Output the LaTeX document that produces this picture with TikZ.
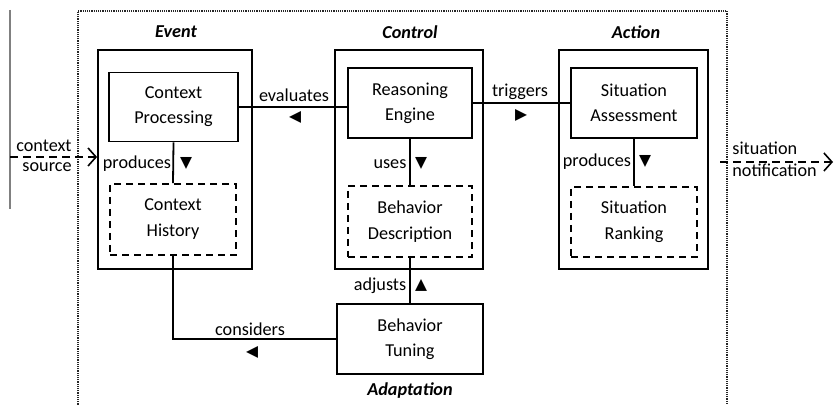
\documentclass[tikz,border=0pt]{standalone}
\usepackage{fontspec}
\setmainfont{Carlito}
\newfontfamily\symfont{DejaVu Sans}
\usetikzlibrary{arrows.meta}
\begin{document}
\begin{tikzpicture}[x=0.5pt,y=-0.5pt,
  txt/.style={font=\fontsize{9.1}{12.5}\selectfont, inner sep=0pt},
  ttl/.style={font=\fontsize{9.1}{12.5}\selectfont\bfseries\itshape, inner sep=0pt},
  outerbox/.style={draw, line width=0.9pt, inner sep=0pt},
  solidbox/.style={draw, line width=0.9pt, inner sep=0pt, align=center, font=\fontsize{9.1}{12.5}\selectfont},
  dashbox/.style={draw, line width=0.8pt, dash pattern=on 3.5pt off 2.5pt, inner sep=0pt, align=center, font=\fontsize{9.1}{13}\selectfont},
  link/.style={line width=0.9pt},
  tri/.style={font=\fontsize{7.8}{8}\selectfont\symfont, inner sep=0pt},
  ioarrow/.style={line width=0.8pt, dash pattern=on 4pt off 2.5pt, -{Straight Barb[length=4pt,width=9pt,line width=0.8pt]}}
]
\useasboundingbox (0,0) rectangle (835,405);
% left gray line and outer dotted frame
\draw[gray, line width=1pt] (10,10) -- (10,209);
\draw[line width=0.6pt, dash pattern=on 0.6pt off 0.5pt, black!85] (78,420) -- (78,11) -- (727,11) -- (727,420);

% group boxes
\node[outerbox, minimum width=77pt, minimum height=109.5pt] (event) at (175,159.5) {};
\node[outerbox, minimum width=74pt, minimum height=109.5pt] (control) at (409,159.5) {};
\node[outerbox, minimum width=74.5pt, minimum height=109.5pt] (action) at (633.5,159.5) {};

\node[ttl] (tevent) at (176,32) {Event};
\node[ttl] (tcontrol) at (410,32) {Control};
\node[ttl] (taction) at (636,32) {Action};
\node[ttl] (tadapt) at (410,391) {Adaptation};

% inner boxes
\node[solidbox, minimum width=64.5pt, minimum height=34.5pt] (cp) at (173.5,107) {Context\\Processing};
\node[dashbox, minimum width=63pt, minimum height=35.5pt] (ch) at (173,219.5) {Context\\History};
\node[solidbox, minimum width=62pt, minimum height=35pt] (re) at (410,103) {Reasoning\\Engine};
\node[dashbox, minimum width=62pt, minimum height=35.5pt] (bd) at (410,221.5) {Behavior\\Description};
\node[solidbox, minimum width=63pt, minimum height=35pt] (sa) at (634,103) {Situation\\Assessment};
\node[dashbox, minimum width=63pt, minimum height=35pt] (sr) at (634,222) {Situation\\Ranking};
\node[solidbox, minimum width=73pt, minimum height=35pt] (bt) at (410,339) {Behavior\\Tuning};

% connectors
\draw[link] (cp.east) -- (cp.east -| re.west);
\draw[link] (re.east) -- (sa.west);
\draw[link] (cp.south) -- (ch.north);
\draw[link] (re.south) -- (bd.north);
\draw[link] (sa.south) -- (sr.north);
\draw[link] (bd.south) -- (bt.north);
\draw[link] (ch.south) |- (bt.west);

% labels
\node[txt] (levaluates) at (294,95) {evaluates};
\node[tri] (aevaluates) at (295,117) {◀};
\node[txt] (ltriggers) at (520,92) {triggers};
\node[tri] (atriggers) at (521,115) {▶};
\node[txt] (lprod1) at (137,164) {produces};
\node[tri] (aprod1) at (186,163) {▼};
\node[txt] (luses) at (390,164) {uses};
\node[tri] (auses) at (421,163) {▼};
\node[txt] (lprod2) at (597,162) {produces};
\node[tri] (aprod2) at (645,161) {▼};
\node[txt] (ladjusts) at (380,286) {adjusts};
\node[tri] (aadjusts) at (421,285) {▲};
\node[txt] (lconsiders) at (250,329) {considers};
\node[tri] (aconsiders) at (252,352) {◀};

% input / output
\coordinate (csrc) at (10,157);
\draw[ioarrow] (csrc) -- (csrc -| event.west);
\node[txt, anchor=east] (lcontext) at (72,146) {context};
\node[txt, anchor=east] (lsource) at (72,167) {source};
\coordinate (sn1) at (720,162);
\coordinate (sn2) at (833,162);
\draw[ioarrow] (sn1) -- (sn2);
\node[txt, anchor=west] (lsituation) at (732,148) {situation};
\node[txt, anchor=west] (lnotif) at (732,170) {notification};
\end{tikzpicture}
\end{document}
